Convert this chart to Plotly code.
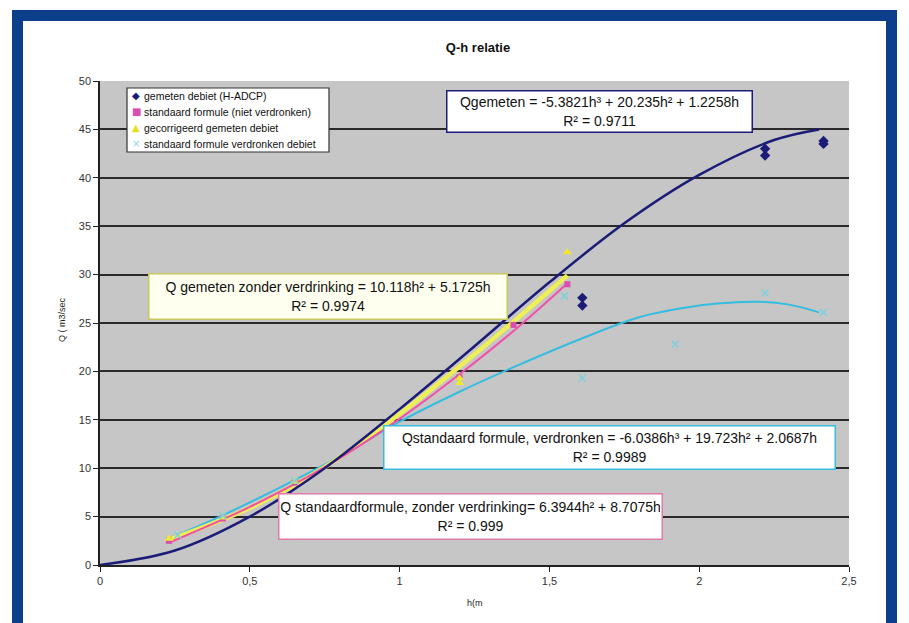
import plotly.graph_objects as go

# ---------------- data ----------------
# measured points
h_gemeten = [1.61, 1.61, 2.22, 2.22, 2.415, 2.415]
q_gemeten = [27.6, 26.8, 43.0, 42.3, 43.8, 43.5]

h_std_niet = [0.23, 0.41, 0.65, 1.20, 1.38, 1.56]
q_std_niet = [2.5, 4.8, 8.5, 19.4, 24.8, 29.0]

h_gecorr = [0.23, 0.41, 0.65, 1.20, 1.20, 1.56]
q_gecorr = [2.7, 4.9, 8.6, 18.8, 19.3, 32.3]

h_std_verdr = [0.26, 0.41, 0.65, 1.55, 1.61, 1.92, 2.22, 2.415]
q_std_verdr = [3.1, 5.1, 8.7, 27.8, 19.3, 22.8, 28.1, 26.1]

# trend lines
h_fit_gemeten = [0, 0.25, 0.5, 0.75, 1.0, 1.25, 1.5, 1.75, 2.0, 2.25, 2.4]
q_fit_gemeten = [0, 1.5, 5.0, 10.0, 16.1, 22.6, 29.2, 35.3, 40.3, 43.9, 45.0]

h_fit_gecorr = [0.23, 0.5, 0.75, 1.0, 1.2, 1.375, 1.56]
q_fit_gecorr = [2.6, 5.9, 10.1, 15.6, 20.5, 25.0, 29.9]

h_fit_std_niet = [0.23, 0.5, 0.75, 1.0, 1.2, 1.4, 1.56]
q_fit_std_niet = [2.3, 6.0, 10.1, 15.1, 19.7, 24.7, 29.1]

h_fit_std_verdr = [0.22, 0.4, 0.6, 0.8, 1.0, 1.2, 1.4, 1.6, 1.8, 2.0, 2.1, 2.2, 2.3, 2.4]
q_fit_std_verdr = [2.6, 5.0, 8.0, 11.2, 14.8, 17.9, 20.7, 23.3, 25.6, 26.8, 27.1, 27.2, 26.9, 26.1]

x_ticks = [0, 0.5, 1, 1.5, 2, 2.5]
x_tick_labels = ["0", "0,5", "1", "1,5", "2", "2,5"]
y_ticks = [0, 5, 10, 15, 20, 25, 30, 35, 40, 45, 50]

series_names = [
    "gemeten debiet (H-ADCP)",
    "standaard formule (niet verdronken)",
    "gecorrigeerd gemeten debiet",
    "standaard formule verdronken debiet",
]

eq_gemeten = "Qgemeten = -5.3821h³ + 20.235h² + 1.2258h<br>R² = 0.9711"
eq_gecorr = "Q gemeten zonder verdrinking = 10.118h² + 5.1725h<br>R² = 0.9974"
eq_std_verdr = "Qstandaard formule, verdronken = -6.0386h³ + 19.723h² + 2.0687h<br>R² = 0.9989"
eq_std_niet = "Q standaardformule, zonder verdrinking= 6.3944h² + 8.7075h<br>R² = 0.999"

# ---------------- style ----------------
NAVY = "#1c1c78"
PINK = "#f250a8"
YELLOW = "#eeee55"
CYAN = "#35bde0"
FONT = "Arial, Liberation Sans, sans-serif"
SYMFONT = "DejaVu Sans, sans-serif"

W, H = 909, 623
L, R, T, B = 100, 60, 81, 58
PW, PH = W - L - R, H - T - B


def px_to_paper(px, py):
    return (px - L) / PW, (H - B - py) / PH


fig = go.Figure()

# trend lines
fig.add_trace(go.Scatter(x=h_fit_std_verdr, y=q_fit_std_verdr, mode="lines",
                         line=dict(color=CYAN, width=2, shape="spline"), showlegend=False, hoverinfo="skip"))
fig.add_trace(go.Scatter(x=h_fit_gecorr, y=q_fit_gecorr, mode="lines",
                         line=dict(color=YELLOW, width=4.5, shape="spline"), showlegend=False, hoverinfo="skip"))
fig.add_trace(go.Scatter(x=h_fit_std_niet, y=q_fit_std_niet, mode="lines",
                         line=dict(color=PINK, width=2, shape="spline"), showlegend=False, hoverinfo="skip"))
fig.add_trace(go.Scatter(x=h_fit_gemeten, y=q_fit_gemeten, mode="lines",
                         line=dict(color=NAVY, width=2.5, shape="spline"), showlegend=False, hoverinfo="skip"))

# points
fig.add_trace(go.Scatter(x=h_gemeten, y=q_gemeten, mode="markers", name=series_names[0], showlegend=False,
                         marker=dict(symbol="diamond", color=NAVY, size=8)))
fig.add_trace(go.Scatter(x=h_std_niet, y=q_std_niet, mode="markers", name=series_names[1], showlegend=False,
                         marker=dict(symbol="square", color="#d94fb0", size=6)))
fig.add_trace(go.Scatter(x=h_gecorr, y=q_gecorr, mode="markers", name=series_names[2], showlegend=False,
                         marker=dict(symbol="triangle-up", color="#f0e830", size=8)))
fig.add_trace(go.Scatter(x=h_std_verdr, y=q_std_verdr, mode="markers", name=series_names[3], showlegend=False,
                         marker=dict(symbol="x-thin", color="#8fd8e0", size=7,
                                     line=dict(color="#7fd0d8", width=1.5))))

annotations = []
shapes = []


def box(text, cx, cy, w, h, border, bg, size=14):
    x, y = px_to_paper(cx, cy)
    annotations.append(dict(text=text, x=x, y=y, xref="paper", yref="paper",
                            xanchor="center", yanchor="middle",
                            showarrow=False, align="center", width=w, height=h,
                            bgcolor=bg, bordercolor=border, borderwidth=1.5, borderpad=1,
                            font=dict(family=FONT, size=size, color="#111111")))


box(eq_gemeten, 599, 111, 302, 38, NAVY, "white")
box(eq_gecorr, 328, 296, 355, 42, "#c8c860", "#fffff0")
box(eq_std_verdr, 609, 447, 448, 40, CYAN, "white")
box(eq_std_niet, 470, 516, 380, 42, "#e07aa8", "white")

# legend (box + entries)
lx0, ly0 = px_to_paper(127, 88)
lx1, ly1 = px_to_paper(329, 152)
shapes.append(dict(type="rect", xref="paper", yref="paper", x0=lx0, y0=ly0, x1=lx1, y1=ly1,
                   line=dict(color="#333333", width=1.2), fillcolor="white", layer="above"))
leg_symbols = ["◆", "■", "▲", "×"]
leg_colors = [NAVY, "#d94fb0", "#e8e020", "#8fd8e0"]
leg_y = [96, 112, 128, 144]
for name, sym, col, py in zip(series_names, leg_symbols, leg_colors, leg_y):
    sx, sy = px_to_paper(136, py)
    annotations.append(dict(text=sym, x=sx, y=sy, xref="paper", yref="paper", showarrow=False,
                            xanchor="center", yanchor="middle",
                            font=dict(family=SYMFONT, size=10, color=col)))
    tx, ty = px_to_paper(142, py)
    annotations.append(dict(text=name, x=tx, y=ty, xref="paper", yref="paper", showarrow=False,
                            xanchor="left", yanchor="middle",
                            font=dict(family=FONT, size=10.5, color="#111111")))

# axis titles
ax, ay = px_to_paper(62, 320)
annotations.append(dict(text="Q ( m3/sec", x=ax, y=ay, xref="paper", yref="paper", showarrow=False,
                        xanchor="center", yanchor="middle",
                        textangle=-90, font=dict(family=FONT, size=9, color="#222222")))
bx, by = px_to_paper(475, 603)
annotations.append(dict(text="h(m", x=bx, y=by, xref="paper", yref="paper", showarrow=False,
                        xanchor="center", yanchor="middle",
                        font=dict(family=FONT, size=9, color="#222222")))

# blue frame
x0, y0 = px_to_paper(17.5, 15.5)
x1, y1 = px_to_paper(891.5, 660)
shapes.append(dict(type="rect", xref="paper", yref="paper", x0=x0, y0=y0, x1=x1, y1=y1,
                   line=dict(color="#0b3f8c", width=11), fillcolor="rgba(0,0,0,0)", layer="above"))

fig.update_layout(
    width=W, height=H,
    margin=dict(l=L, r=R, t=T, b=B),
    paper_bgcolor="white",
    plot_bgcolor="#c6c6c6",
    font=dict(family=FONT, color="#222222"),
    title=dict(text="<b>Q-h relatie</b>", x=478 / W, xanchor="center",
               y=1 - 47 / H, yanchor="middle", font=dict(family=FONT, size=13, color="#111111")),
    showlegend=False,
    xaxis=dict(range=[0, 2.5], tickvals=x_ticks, ticktext=x_tick_labels, showgrid=False,
               zeroline=False, showline=True, linecolor="#222222", linewidth=1.5,
               ticks="outside", ticklen=5, tickcolor="#222222",
               tickfont=dict(family=FONT, size=11, color="#333333")),
    yaxis=dict(range=[0, 50], tickvals=y_ticks, showgrid=True, gridcolor="#2a2a2a", gridwidth=1.8,
               zeroline=False, showline=True, linecolor="#222222", linewidth=1.5,
               ticks="outside", ticklen=5, tickcolor="#222222",
               tickfont=dict(family=FONT, size=11, color="#333333")),
    annotations=annotations,
    shapes=shapes,
)

fig.write_html("out.html", config={"displayModeBar": False},
               post_script="document.body.style.margin='0';document.body.style.overflow='hidden';")
